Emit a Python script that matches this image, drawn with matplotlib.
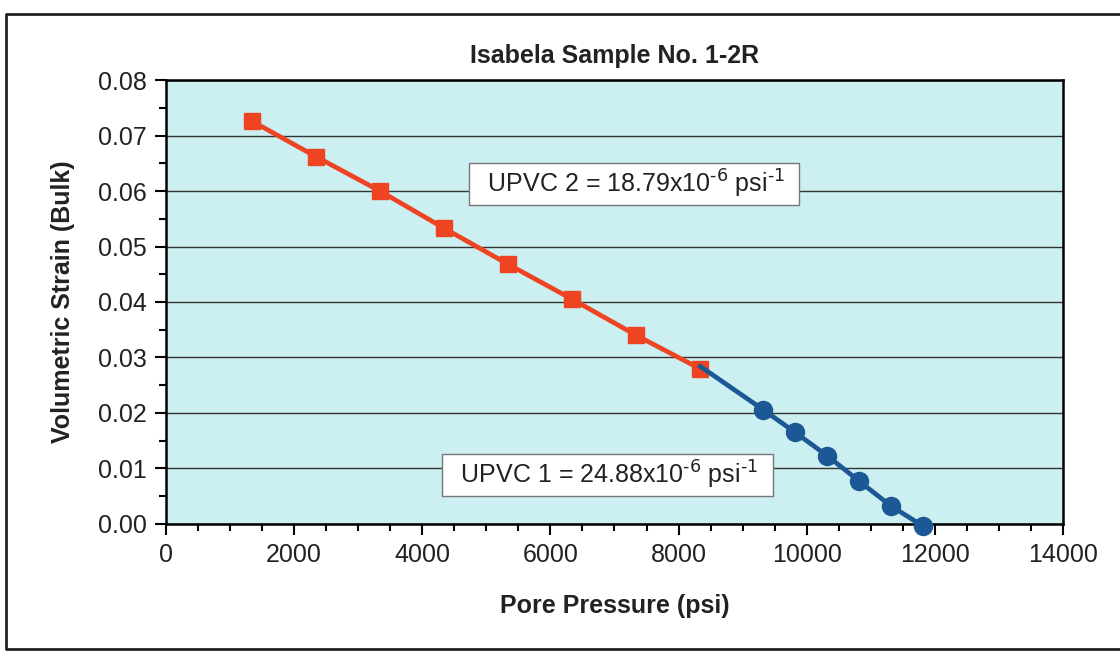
import matplotlib
matplotlib.use('Agg')
from matplotlib import pyplot as plt
from matplotlib.lines import Line2D
from matplotlib.ticker import MultipleLocator

plt.rcParams['font.family'] = ['Liberation Sans', 'DejaVu Sans']

# UPVC 2 segment (red squares)
p2_psi = [1340, 2340, 3340, 4340, 5340, 6340, 7340, 8330]
p2_strain = [0.0726, 0.0662, 0.0600, 0.0533, 0.0468, 0.0405, 0.0340, 0.0280]

# UPVC 1 segment (blue circles), first point shared with red end
p1_psi = [8340, 9320, 9820, 10320, 10810, 11320, 11820]
p1_strain = [0.0284, 0.0206, 0.0165, 0.0123, 0.0078, 0.0032, -0.0004]

title = 'Isabela Sample No. 1-2R'
xlabel = 'Pore Pressure (psi)'
ylabel = 'Volumetric Strain (Bulk)'
label2 = r'  UPVC 2 = 18.79x10$^{\text{-6}}$ psi$^{\text{-1}}$  '
label1 = r'  UPVC 1 = 24.88x10$^{\text{-6}}$ psi$^{\text{-1}}$  '

red = '#EE4422'
blue = '#1D5896'

fig = plt.figure(figsize=(11.2, 6.51), dpi=100)
fig.patch.set_facecolor('white')
# scanned page frame (right edge is cut off)
fx = [1.2, 6 / 1120, 6 / 1120, 1.2]
fy = [1 - 14 / 651, 1 - 14 / 651, 2 / 651, 2 / 651]
fig.lines.append(Line2D(fx, fy, transform=fig.transFigure,
                        color='#222222', linewidth=2))

ax = fig.add_axes([0.1482, 0.1951, 0.8009, 0.682])
ax.set_facecolor('#CCEFF1')

ax.plot(p2_psi, p2_strain, color=red, linewidth=3.4, marker='s',
        markersize=11, zorder=3)
ax.plot(p1_psi, p1_strain, color=blue, linewidth=3.4, marker='o',
        markersize=13, markevery=list(range(1, len(p1_psi))),
        zorder=4, clip_on=False)

ax.set_xlim(0, 14000)
ax.set_ylim(0, 0.08)
ax.xaxis.set_major_locator(MultipleLocator(2000))
ax.xaxis.set_minor_locator(MultipleLocator(500))
ax.yaxis.set_major_locator(MultipleLocator(0.01))
ax.yaxis.set_minor_locator(MultipleLocator(0.005))
ax.yaxis.set_major_formatter(lambda v, pos: f'{v:.2f}')
ax.grid(axis='y', which='major', color='#333333', linewidth=1.0)
ax.set_axisbelow(True)

ax.tick_params(which='major', direction='out', length=8, width=1.5,
               labelsize=18, pad=6, labelcolor='#222222')
ax.tick_params(which='minor', direction='out', length=5, width=1.5)
for s in ax.spines.values():
    s.set_linewidth(1.8)

ax.set_title(title, fontsize=18, fontweight='bold', pad=12, color='#222222')
ax.set_xlabel(xlabel, fontsize=18, fontweight='bold', labelpad=19,
              color='#222222')
ax.set_ylabel(ylabel, fontsize=18, fontweight='bold', labelpad=16,
              color='#222222')

box = dict(boxstyle='square,pad=0.2', facecolor='white',
           edgecolor='#777777', linewidth=1)
ax.text(7300, 0.0613, label2, fontsize=18, ha='center', va='center',
        bbox=box, zorder=5, color='#222222')
ax.text(6890, 0.0088, label1, fontsize=18, ha='center', va='center',
        bbox=box, zorder=5, color='#222222')

fig.savefig('out.png', dpi=100)
